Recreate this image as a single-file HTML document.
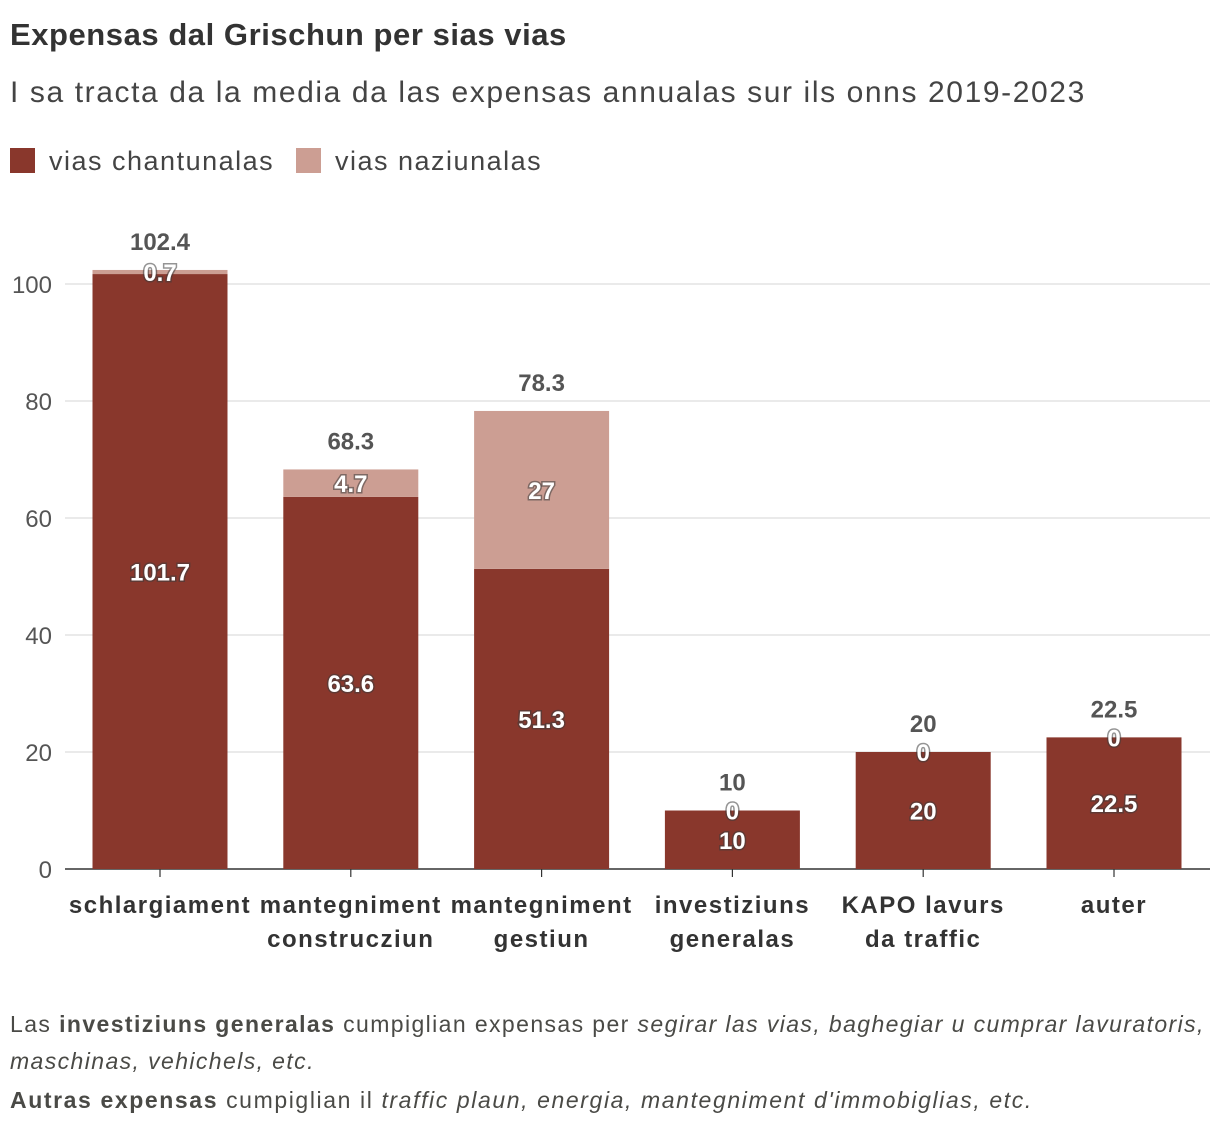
<!DOCTYPE html>
<html><head><meta charset="utf-8"><style>
body{margin:0;background:#fff;font-family:"Liberation Sans",sans-serif;color:#333;}
#wrap{position:relative;width:1220px;height:1136px;}
.t{position:absolute;white-space:nowrap;}
</style></head><body>
<div id="wrap">
<div class="t" style="left:10px;top:17px;font-size:31px;font-weight:bold;color:#333;letter-spacing:0.55px;">Expensas dal Grischun per sias vias</div>
<div class="t" style="left:10px;top:76px;font-size:30px;color:#444;letter-spacing:1.6px;">I sa tracta da la media da las expensas annualas sur ils onns 2019-2023</div>
<div class="t" style="left:10px;top:146px;font-size:27px;color:#444;letter-spacing:1.5px;"><span style="display:inline-block;width:25px;height:25px;background:#89372c;vertical-align:-3px;margin-right:14px;"></span>vias chantunalas</div>
<div class="t" style="left:296px;top:146px;font-size:27px;color:#444;letter-spacing:1.5px;"><span style="display:inline-block;width:25px;height:25px;background:#cc9e93;vertical-align:-3px;margin-right:14px;"></span>vias naziunalas</div>
<svg id="chart" width="1220" height="1136" style="position:absolute;left:0;top:0;"></svg>
<div class="t" style="left:10px;top:1006px;font-size:23px;color:#4a4a46;line-height:37px;letter-spacing:1.4px;">Las <b>investiziuns generalas</b> cumpiglian expensas per <i>segirar las vias, baghegiar u cumprar lavuratoris,</i><br><i>maschinas, vehichels, etc.</i></div>
<div class="t" style="left:10px;top:1087px;font-size:23px;color:#4a4a46;letter-spacing:1.6px;"><b>Autras expensas</b> cumpiglian il <i>traffic plaun, energia, mantegniment d'immobiglias, etc.</i></div>
</div>
<script>
const categories=[["schlargiament"],["mantegniment","construcziun"],["mantegniment","gestiun"],["investiziuns","generalas"],["KAPO lavurs","da traffic"],["auter"]];
const chantunalas=[101.7,63.6,51.3,10,20,22.5];
const naziunalas=[0.7,4.7,27,0,0,0];
const totals=[102.4,68.3,78.3,10,20,22.5];
const ticks=[0,20,40,60,80,100];
const svg=document.getElementById('chart');
const NS='http://www.w3.org/2000/svg';
const y=v=>869-v*5.85;
const xc=i=>160+i*190.8;
const bw=135;
function mk(tag,attrs,txt){const e=document.createElementNS(NS,tag);for(const k in attrs)e.setAttribute(k,attrs[k]);if(txt!==undefined)e.textContent=txt;svg.appendChild(e);return e;}
ticks.forEach(t=>{
 const l=mk('line',{x1:65,x2:1210,y1:y(t),y2:y(t),stroke:t===0?'#333':'#ddd','stroke-width':t===0?1.5:1.2});
 
 
 const tx=mk('text',{x:52,y:y(t)+9,'text-anchor':'end','font-size':24,fill:'#555'},t);
 
 
});
categories.forEach((c,i)=>{
 const x=xc(i);
 const a=chantunalas[i],b=naziunalas[i];
 const r1=mk('rect',{x:x-bw/2,y:y(a),width:bw,height:y(0)-y(a),fill:'#89372c'});
 
 
 const r2=mk('rect',{x:x-bw/2,y:y(a+b),width:bw,height:y(a)-y(a+b),fill:'#cc9e93'});
 
 
 mk('line',{x1:x,x2:x,y1:869,y2:877,stroke:'#333','stroke-width':1.2});
 const lab=[[a,(y(0)+y(a))/2],[b,(y(a)+y(a+b))/2]];
 lab.forEach(([v,yy],k)=>{
  const t=mk('text',{x:x,y:yy+9,'text-anchor':'middle','font-size':24,'font-weight':'bold',fill:'#fff',stroke:'rgba(60,60,60,0.55)','stroke-width':3,'paint-order':'stroke'},v);
  
  
 });
 const tt=mk('text',{x:x,y:y(totals[i])-20,'text-anchor':'middle','font-size':24,'font-weight':'bold',fill:'#555'},totals[i]);
 
 
 c.forEach((line,j)=>{
  const ct=mk('text',{x:x,y:913+j*34,'text-anchor':'middle','font-size':24,'font-weight':'bold',fill:'#333','letter-spacing':'1.5px'},line);
  
  
 });
});
</script>
</body></html>
